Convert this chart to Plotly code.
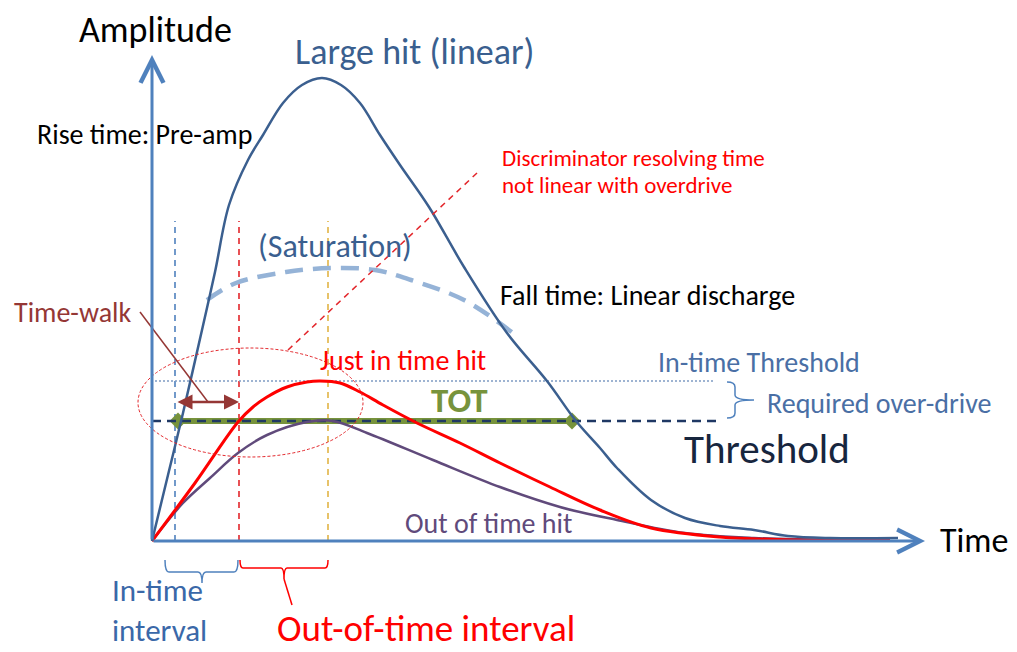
import plotly.graph_objects as go

# time / amplitude in drawing units (origin at the axes corner)
large_t = [0, 16, 31, 50, 63, 77, 96, 111, 131, 150, 170, 189, 208, 228, 248, 277, 312, 355, 395, 424, 448, 465, 499, 533, 568, 602, 636, 678, 746]
large_amp = [0, 66, 128, 211, 269, 336, 381, 406, 438, 456, 463, 456, 438, 406, 376, 334, 274, 208, 160, 120, 93, 73, 41, 23, 15, 11, 5, 3, 3]

sat_t = [55, 84, 134, 180, 223, 259, 312, 361]
sat_amp = [241, 258, 269, 273, 271, 261, 241, 208]

just_t = [0, 43, 86, 101, 115, 135, 155, 168, 188, 208, 231, 265, 308, 348, 398, 448, 499, 568, 648, 738]
just_amp = [0, 58, 119, 134, 144, 154, 159, 160, 158, 149, 136, 118, 98, 78, 54, 31, 13, 4, 1, 1]

late_t = [0, 31, 58, 86, 115, 155, 181, 215, 281, 348, 408, 465, 533, 602, 698]
late_amp = [0, 38, 63, 88, 106, 119, 120, 108, 81, 54, 34, 21, 8, 3, 1]

threshold = 120
intime_threshold = 160
threshold_end = 564
tot_start, tot_end = 26, 420
walk_start, walk_end, walk_amp = 24, 87, 139
marker_times = [23, 87, 176]
marker_colors = ["#4F81BD", "#E3262B", "#E2B445"]
marker_top = 320

AXIS = "#4F81BD"
NAVY = "#3A5F8F"
FONT = "Carlito, Lato, sans-serif"

fig = go.Figure()

# vertical timing markers
for tm, col in zip(marker_times, marker_colors):
    fig.add_trace(go.Scatter(x=[tm, tm], y=[0, marker_top], mode="lines",
                             line=dict(color=col, width=1.6, dash="6px,5px")))

# saturated pulse
fig.add_trace(go.Scatter(x=sat_t, y=sat_amp, mode="lines", line_shape="spline",
                         line=dict(color="#95B3D7", width=4.5, dash="18px,10px")))

# in-time threshold (dotted)
fig.add_trace(go.Scatter(x=[3, 561], y=[intime_threshold] * 2, mode="lines",
                         line=dict(color="#7F9CC4", width=1.5, dash="2px,2px")))

# TOT bar
fig.add_trace(go.Scatter(x=[tot_start, tot_end], y=[threshold] * 2, mode="lines+markers",
                         line=dict(color="#77933C", width=6),
                         marker=dict(symbol="diamond", size=13, color="#77933C")))

# threshold
fig.add_trace(go.Scatter(x=[0, threshold_end], y=[threshold] * 2, mode="lines",
                         line=dict(color="#1F3864", width=2.5, dash="9px,6px")))

# pulses
fig.add_trace(go.Scatter(x=late_t, y=late_amp, mode="lines", line_shape="spline",
                         line=dict(color="#604A7B", width=2.5)))
fig.add_trace(go.Scatter(x=just_t, y=just_amp, mode="lines", line_shape="spline",
                         line=dict(color="#FF0000", width=3)))
fig.add_trace(go.Scatter(x=large_t, y=large_amp, mode="lines", line_shape="spline",
                         line=dict(color="#3B5F8F", width=2.5)))


def hbrace(x0, x1, xm, ytop, ybot, ynub, r):
    return (f"M{x0},{ytop} Q{x0},{ybot} {x0 + r},{ybot} L{xm - r},{ybot} "
            f"Q{xm},{ybot} {xm},{ynub} Q{xm},{ybot} {xm + r},{ybot} "
            f"L{x1 - r},{ybot} Q{x1},{ybot} {x1},{ytop}")


def vbrace(y0, y1, ym, xl, xr, xnub, r):
    return (f"M{xl},{y0} Q{xr},{y0} {xr},{y0 - r} L{xr},{ym + r} "
            f"Q{xr},{ym} {xnub},{ym} Q{xr},{ym} {xr},{ym - r} "
            f"L{xr},{y1 + r} Q{xr},{y1} {xl},{y1}")


shapes = [
    dict(type="circle", xref="x", yref="y", x0=-14, x1=211, y0=84, y1=193,
         line=dict(color="#E3262B", width=1, dash="3px,2px")),
    dict(type="line", xref="x", yref="y", x0=136, y0=191, x1=325, y1=368,
         line=dict(color="#E3262B", width=1.5, dash="6px,5px")),
    dict(type="line", xref="x", yref="y", x0=-12, y0=229, x1=56, y1=139,
         line=dict(color="#953735", width=1.5)),
    dict(type="path", xref="x", yref="y", path=hbrace(13, 86, 50, -19, -31, -42, 4),
         line=dict(color="#4F81BD", width=1.5)),
    dict(type="path", xref="x", yref="y", path=hbrace(88, 176, 132, -19, -27, -38, 3),
         line=dict(color="#FF0000", width=1.5)),
    dict(type="line", xref="x", yref="y", x0=132, y0=-38, x1=140, y1=-64,
         line=dict(color="#FF0000", width=1.5)),
    dict(type="path", xref="x", yref="y", path=vbrace(159, 123, 141, 575, 583, 602, 5),
         line=dict(color="#4F81BD", width=1.5)),
]

annotations = [
    # axes
    dict(x=0, y=486, ax=0, ay=0, xref="x", yref="y", axref="x", ayref="y", text="",
         showarrow=True, arrowhead=5, arrowsize=1.5, arrowwidth=3, arrowcolor=AXIS),
    dict(x=773, y=0, ax=0, ay=0, xref="x", yref="y", axref="x", ayref="y", text="",
         showarrow=True, arrowhead=5, arrowsize=1.5, arrowwidth=3, arrowcolor=AXIS),
    # time-walk arrow
    dict(x=walk_end, y=walk_amp, ax=walk_start, ay=walk_amp, xref="x", yref="y",
         axref="x", ayref="y", text="", showarrow=True, arrowside="end+start",
         arrowhead=2, startarrowhead=2, arrowsize=1.2, startarrowsize=1.2,
         arrowwidth=2.5, arrowcolor="#953735"),
]


def label(text, x, y, size, color, anchor="left", bold=False, yanchor="middle"):
    if bold:
        text = f"<b>{text}</b>"
    annotations.append(dict(x=x, y=y, xref="x", yref="y", text=text, showarrow=False,
                            xanchor=anchor, yanchor=yanchor, align="left",
                            font=dict(family=FONT, size=size, color=color)))


label("Amplitude", 3, 511, 36, "black", "center")
label("Large hit (linear)", 262, 489, 36, NAVY, "center")
label("Rise time: Pre-amp", -117, 407, 28, "black")
label("Discriminator resolving time", 348, 383, 23, "#FF0000")
label("not linear with overdrive", 348, 356, 23, "#FF0000")
label("(Saturation)", 104, 295, 32, NAVY)
label("Fall time: Linear discharge", 346, 246, 28, "black")
label("Time-walk", -140, 229, 28, "#953735")
label("Just in time hit", 166, 181, 28, "#FF0000")
label("In-time Threshold", 504, 179, 28, "#4A6FA5")
label("Required over-drive", 613, 138, 28, "#4A6FA5")
label("TOT", 307, 141, 35, "#77933C", "center", bold=True)
label("Threshold", 530, 92, 41, "#17263E")
label("Out of time hit", 251, 18, 28, "#604A7B")
label("Time", 786, 1, 34, "black")
label("In-time<br>interval", -42, -110, 31, "#3A68A8", yanchor="bottom")
label("Out-of-time interval", 123, -87, 37, "#FF0000")

# the page body has an 8px margin, so the figure is drawn 8px in from the top-left
fig.update_layout(
    width=1009, height=644,
    margin=dict(l=0, r=0, t=0, b=0),
    paper_bgcolor="white", plot_bgcolor="white",
    showlegend=False,
    xaxis=dict(range=[-144, 865], visible=False),
    yaxis=dict(range=[-111, 533], visible=False),
    shapes=shapes,
    annotations=annotations,
)

fig.write_html("out.html")
